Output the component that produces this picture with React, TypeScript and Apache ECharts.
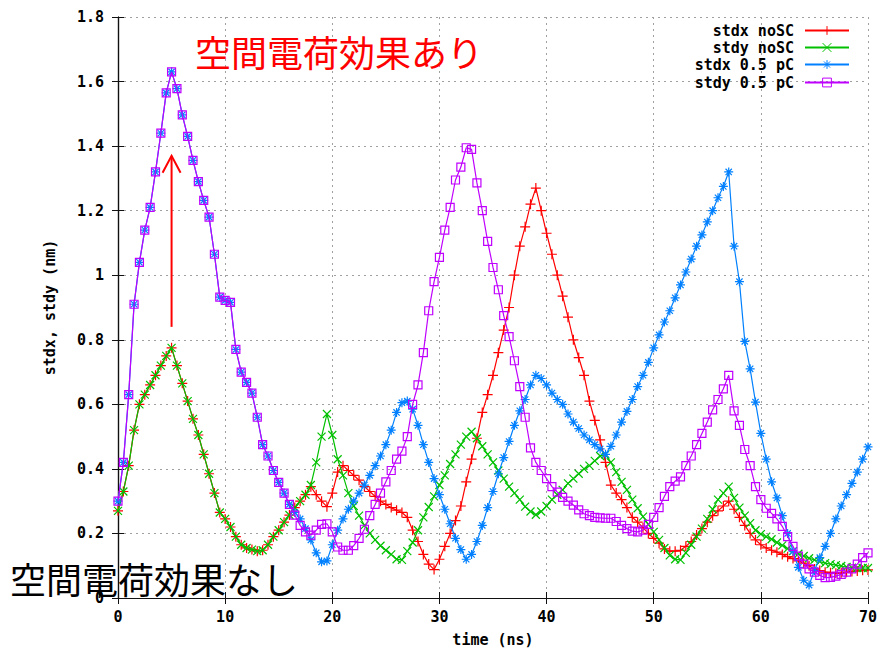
import React, { useEffect, useRef } from "react";
import * as echarts from "echarts";

// Sampling step of every trace (ns)
const STEP_NS = 0.5;

// Axis ranges and tick spacing
const X_MIN = 0;
const X_MAX = 70;
const X_INTERVAL = 10;
const Y_MIN = 0;
const Y_MAX = 1.8;
const Y_INTERVAL = 0.2;

const SERIES_NAMES = ["stdx noSC", "stdy noSC", "stdx 0.5 pC", "stdy 0.5 pC"];

// stdx without space charge (nm), t = 0 .. 70 ns
const STDX_NOSC = [
  0.27, 0.33, 0.41, 0.52, 0.6, 0.63, 0.66, 0.69, 0.72, 0.75,
  0.775, 0.72, 0.665, 0.61, 0.555, 0.505, 0.445, 0.385, 0.325, 0.265,
  0.245, 0.22, 0.19, 0.165, 0.155, 0.15, 0.145, 0.148, 0.165, 0.19,
  0.21, 0.235, 0.257, 0.28, 0.3, 0.32, 0.345, 0.32, 0.3, 0.283,
  0.325, 0.39, 0.41, 0.395, 0.38, 0.365, 0.345, 0.33, 0.315, 0.3,
  0.29, 0.28, 0.272, 0.265, 0.25, 0.21, 0.175, 0.135, 0.105, 0.088,
  0.12, 0.16, 0.2, 0.24, 0.285, 0.36, 0.43, 0.495, 0.575, 0.63,
  0.69, 0.76, 0.83, 0.9, 1.0, 1.09, 1.15, 1.22, 1.27, 1.2,
  1.13, 1.065, 1.0, 0.935, 0.87, 0.8, 0.745, 0.69, 0.61, 0.55,
  0.49, 0.42, 0.35, 0.325, 0.305, 0.28, 0.25, 0.235, 0.218, 0.2,
  0.185, 0.17, 0.152, 0.145, 0.145, 0.148, 0.16, 0.175, 0.195, 0.215,
  0.235, 0.255, 0.27, 0.285, 0.3, 0.275, 0.25, 0.225, 0.2, 0.18,
  0.165, 0.155, 0.148, 0.142, 0.135, 0.128, 0.122, 0.115, 0.108, 0.1,
  0.09, 0.085, 0.08, 0.078, 0.077, 0.078, 0.08, 0.082, 0.084, 0.086,
  0.087,
];

// stdy without space charge (nm)
const STDY_NOSC = [
  0.27, 0.33, 0.41, 0.52, 0.6, 0.63, 0.66, 0.69, 0.72, 0.75,
  0.775, 0.72, 0.665, 0.61, 0.555, 0.505, 0.445, 0.385, 0.325, 0.265,
  0.245, 0.22, 0.19, 0.165, 0.155, 0.15, 0.145, 0.148, 0.165, 0.19,
  0.21, 0.235, 0.257, 0.28, 0.3, 0.32, 0.35, 0.42, 0.5, 0.57,
  0.505, 0.43, 0.38, 0.325, 0.285, 0.255, 0.225, 0.2, 0.18, 0.162,
  0.148, 0.135, 0.12, 0.118, 0.145, 0.172, 0.21, 0.25, 0.282, 0.315,
  0.35, 0.38, 0.415, 0.445, 0.475, 0.5, 0.515, 0.495, 0.47, 0.445,
  0.42, 0.395, 0.37, 0.345, 0.325, 0.305, 0.283, 0.268, 0.258, 0.268,
  0.285, 0.305, 0.32, 0.335, 0.355, 0.37, 0.385, 0.4, 0.41, 0.425,
  0.44, 0.445, 0.42, 0.39, 0.36, 0.335, 0.305, 0.278, 0.252, 0.228,
  0.205, 0.18, 0.155, 0.132, 0.12, 0.118, 0.14, 0.165, 0.19, 0.215,
  0.245, 0.275, 0.305, 0.325, 0.345, 0.31, 0.28, 0.255, 0.232, 0.21,
  0.198, 0.19, 0.182, 0.172, 0.163, 0.153, 0.145, 0.137, 0.13, 0.123,
  0.118, 0.113, 0.108, 0.105, 0.102, 0.099, 0.096, 0.094, 0.093, 0.093,
  0.093,
];

// stdx with 0.5 pC bunch charge (nm)
const STDX_05PC = [
  0.3, 0.42, 0.63, 0.91, 1.04, 1.14, 1.21, 1.32, 1.44, 1.565,
  1.63, 1.578, 1.497, 1.43, 1.356, 1.29, 1.232, 1.18, 1.065, 0.932,
  0.922, 0.916, 0.77, 0.7, 0.668, 0.635, 0.56, 0.475, 0.44, 0.395,
  0.358, 0.325, 0.29, 0.265, 0.245, 0.215, 0.18, 0.14, 0.112, 0.115,
  0.165, 0.21, 0.245, 0.275, 0.3, 0.325, 0.35, 0.38, 0.41, 0.44,
  0.475, 0.52, 0.575, 0.605, 0.61, 0.585, 0.535, 0.475, 0.42, 0.37,
  0.32, 0.275, 0.23, 0.185, 0.15, 0.12, 0.135, 0.175, 0.225, 0.28,
  0.33, 0.385, 0.435, 0.485, 0.535, 0.58, 0.615, 0.66, 0.69, 0.68,
  0.66, 0.635, 0.615, 0.6, 0.57, 0.545, 0.525, 0.505, 0.49, 0.475,
  0.462, 0.445, 0.47, 0.505, 0.545, 0.578, 0.615, 0.655, 0.69, 0.73,
  0.775, 0.815, 0.855, 0.89, 0.93, 0.97, 1.01, 1.05, 1.09, 1.125,
  1.165, 1.2, 1.24, 1.275, 1.32, 1.09, 0.98, 0.795, 0.71, 0.607,
  0.51, 0.43, 0.36, 0.31, 0.255, 0.2, 0.145, 0.095, 0.055, 0.04,
  0.085, 0.125, 0.16, 0.2, 0.245, 0.285, 0.32, 0.355, 0.39, 0.43,
  0.468,
];

// stdy with 0.5 pC bunch charge (nm)
const STDY_05PC = [
  0.3, 0.42, 0.63, 0.91, 1.04, 1.14, 1.21, 1.32, 1.44, 1.565,
  1.63, 1.578, 1.497, 1.43, 1.356, 1.29, 1.232, 1.18, 1.065, 0.932,
  0.922, 0.916, 0.77, 0.7, 0.668, 0.635, 0.56, 0.475, 0.44, 0.395,
  0.358, 0.325, 0.29, 0.257, 0.225, 0.205, 0.195, 0.21, 0.228, 0.23,
  0.205, 0.158, 0.148, 0.148, 0.162, 0.185, 0.213, 0.255, 0.29, 0.325,
  0.36, 0.395, 0.43, 0.455, 0.5, 0.6, 0.66, 0.76, 0.89, 0.98,
  1.055, 1.14, 1.21, 1.295, 1.335, 1.395, 1.39, 1.286, 1.2, 1.105,
  1.024, 0.955, 0.875, 0.81, 0.735, 0.655, 0.56, 0.465, 0.42, 0.395,
  0.37, 0.345, 0.328, 0.312, 0.3, 0.288, 0.273, 0.261, 0.255, 0.25,
  0.248, 0.247, 0.247, 0.237, 0.225, 0.215, 0.207, 0.205, 0.21, 0.228,
  0.25, 0.28, 0.315, 0.345, 0.362, 0.375, 0.41, 0.44, 0.475, 0.51,
  0.545, 0.583, 0.615, 0.648, 0.69, 0.58, 0.535, 0.46, 0.41, 0.345,
  0.305, 0.278, 0.262, 0.245, 0.222, 0.19, 0.16, 0.13, 0.105, 0.09,
  0.08, 0.07, 0.063, 0.064, 0.068, 0.073, 0.08, 0.09, 0.105, 0.125,
  0.14,
];

// Annotation arrow: [time, from, to]
const ARROW = [[5, 0.84, 1.37]];

const LABEL_WITH_SC = "空間電荷効果あり";
const LABEL_NO_SC = "空間電荷効果なし";

const COLORS = ["#ff0000", "#00c000", "#0080ff", "#c000ff"];

const PLUS = "path://M0,5L10,5M5,0L5,10";
const CROSS = "path://M0,0L10,10M0,10L10,0";
const STAR = "path://M0,5L10,5M5,0L5,10M1.5,1.5L8.5,8.5M1.5,8.5L8.5,1.5";
const SQUARE = "path://M0,0L10,0L10,10L0,10Z";

const MONO = "'DejaVu Sans Mono', 'Liberation Mono', monospace";
const CJK = "'Noto Sans CJK JP', 'Noto Sans CJK SC', sans-serif";

const toPoints = (values: number[]) => values.map((v, i) => [i * STEP_NS, v]);

export default function App() {
  const ref = useRef<HTMLDivElement>(null);

  useEffect(() => {
    if (!ref.current) return;
    const chart = echarts.init(ref.current, null, { renderer: "svg" });

    const seriesData = [STDX_NOSC, STDY_NOSC, STDX_05PC, STDY_05PC];
    const symbols = [PLUS, CROSS, STAR, SQUARE];
    const sizes = [10, 8, 9, 8];

    const lineSeries = seriesData.map((values, i) => ({
      type: "line",
      name: SERIES_NAMES[i],
      data: toPoints(values),
      xAxisIndex: 0,
      yAxisIndex: 0,
      symbol: symbols[i],
      symbolSize: sizes[i],
      showAllSymbol: true,
      color: COLORS[i],
      lineStyle: { color: COLORS[i], width: 1.2 },
      itemStyle: {
        color: i === 3 ? "transparent" : COLORS[i],
        borderColor: COLORS[i],
        borderWidth: 1.2,
      },
      z: 2 + i,
    }));

    const legendTops = [23, 40, 57, 75];
    const legends = SERIES_NAMES.map((name, i) => ({
      data: [name],
      right: 35,
      top: legendTops[i],
      align: "right",
      orient: "horizontal",
      itemWidth: 44,
      itemHeight: 11,
      padding: 0,
      itemGap: 0,
      selectedMode: false,
      itemStyle: { borderWidth: 1 },
      textStyle: {
        fontFamily: MONO,
        fontWeight: "bold",
        fontSize: 15,
        color: "#000",
        padding: [0, 6, 0, 0],
      },
    }));

    const axisLine = { show: true, lineStyle: { color: "#111", width: 1.2 } };
    const axisTick = { show: true, inside: true, length: 6, lineStyle: { color: "#111" } };
    const labelStyle = {
      fontFamily: MONO,
      fontWeight: "bold",
      fontSize: 15,
      color: "#000",
    };
    const gridLine = {
      show: true,
      lineStyle: { color: "#a0a0a0", width: 1, type: [2, 4] },
    };

    chart.setOption({
      animation: false,
      backgroundColor: "#ffffff",
      grid: { left: 118, right: 17, top: 17, bottom: 52, containLabel: false },
      legend: legends,
      xAxis: [
        {
          type: "value",
          min: X_MIN,
          max: X_MAX,
          interval: X_INTERVAL,
          position: "bottom",
          name: "time (ns)",
          nameLocation: "middle",
          nameGap: 34,
          nameTextStyle: labelStyle,
          axisLine,
          axisTick,
          axisLabel: { ...labelStyle, margin: 11 },
          splitLine: gridLine,
        },
        {
          type: "value",
          min: X_MIN,
          max: X_MAX,
          interval: X_INTERVAL,
          position: "top",
          axisLine,
          axisTick,
          axisLabel: { show: false },
          splitLine: { show: false },
        },
      ],
      yAxis: [
        {
          type: "value",
          min: Y_MIN,
          max: Y_MAX,
          interval: Y_INTERVAL,
          position: "left",
          name: "stdx, stdy (nm)",
          nameLocation: "middle",
          nameGap: 61,
          nameRotate: 90,
          nameTextStyle: labelStyle,
          axisLine,
          axisTick,
          axisLabel: { ...labelStyle, margin: 14 },
          splitLine: gridLine,
        },
        {
          type: "value",
          min: Y_MIN,
          max: Y_MAX,
          interval: Y_INTERVAL,
          position: "right",
          axisLine,
          axisTick,
          axisLabel: { show: false },
          splitLine: { show: false },
        },
      ],
      series: [
        ...lineSeries,
        {
          type: "custom",
          xAxisIndex: 0,
          yAxisIndex: 0,
          data: ARROW,
          z: 10,
          silent: true,
          renderItem: (_params: any, api: any) => {
            const x = api.value(0);
            const from = api.coord([x, api.value(1)]);
            const to = api.coord([x, api.value(2)]);
            const stroke = { stroke: "#ff0000", lineWidth: 2, fill: "none" };
            return {
              type: "group",
              children: [
                {
                  type: "line",
                  shape: { x1: from[0], y1: from[1], x2: to[0], y2: to[1] },
                  style: stroke,
                },
                {
                  type: "polyline",
                  shape: {
                    points: [
                      [to[0] - 9, to[1] + 17],
                      [to[0], to[1]],
                      [to[0] + 9, to[1] + 17],
                    ],
                  },
                  style: stroke,
                },
              ],
            };
          },
        },
      ],
      graphic: [
        {
          type: "text",
          x: 195,
          y: 51,
          z: 100,
          style: {
            text: LABEL_WITH_SC,
            fontFamily: CJK,
            fontSize: 36,
            fill: "#ff0000",
            verticalAlign: "middle",
          },
        },
        {
          type: "text",
          x: 10,
          y: 578,
          z: 100,
          style: {
            text: LABEL_NO_SC,
            fontFamily: CJK,
            fontSize: 36,
            fill: "#000000",
            verticalAlign: "middle",
          },
        },
      ],
    });

    return () => chart.dispose();
  }, []);

  return (
    <div
      ref={ref}
      style={{ position: "fixed", left: 0, top: 0, width: 885, height: 652 }}
    />
  );
}
